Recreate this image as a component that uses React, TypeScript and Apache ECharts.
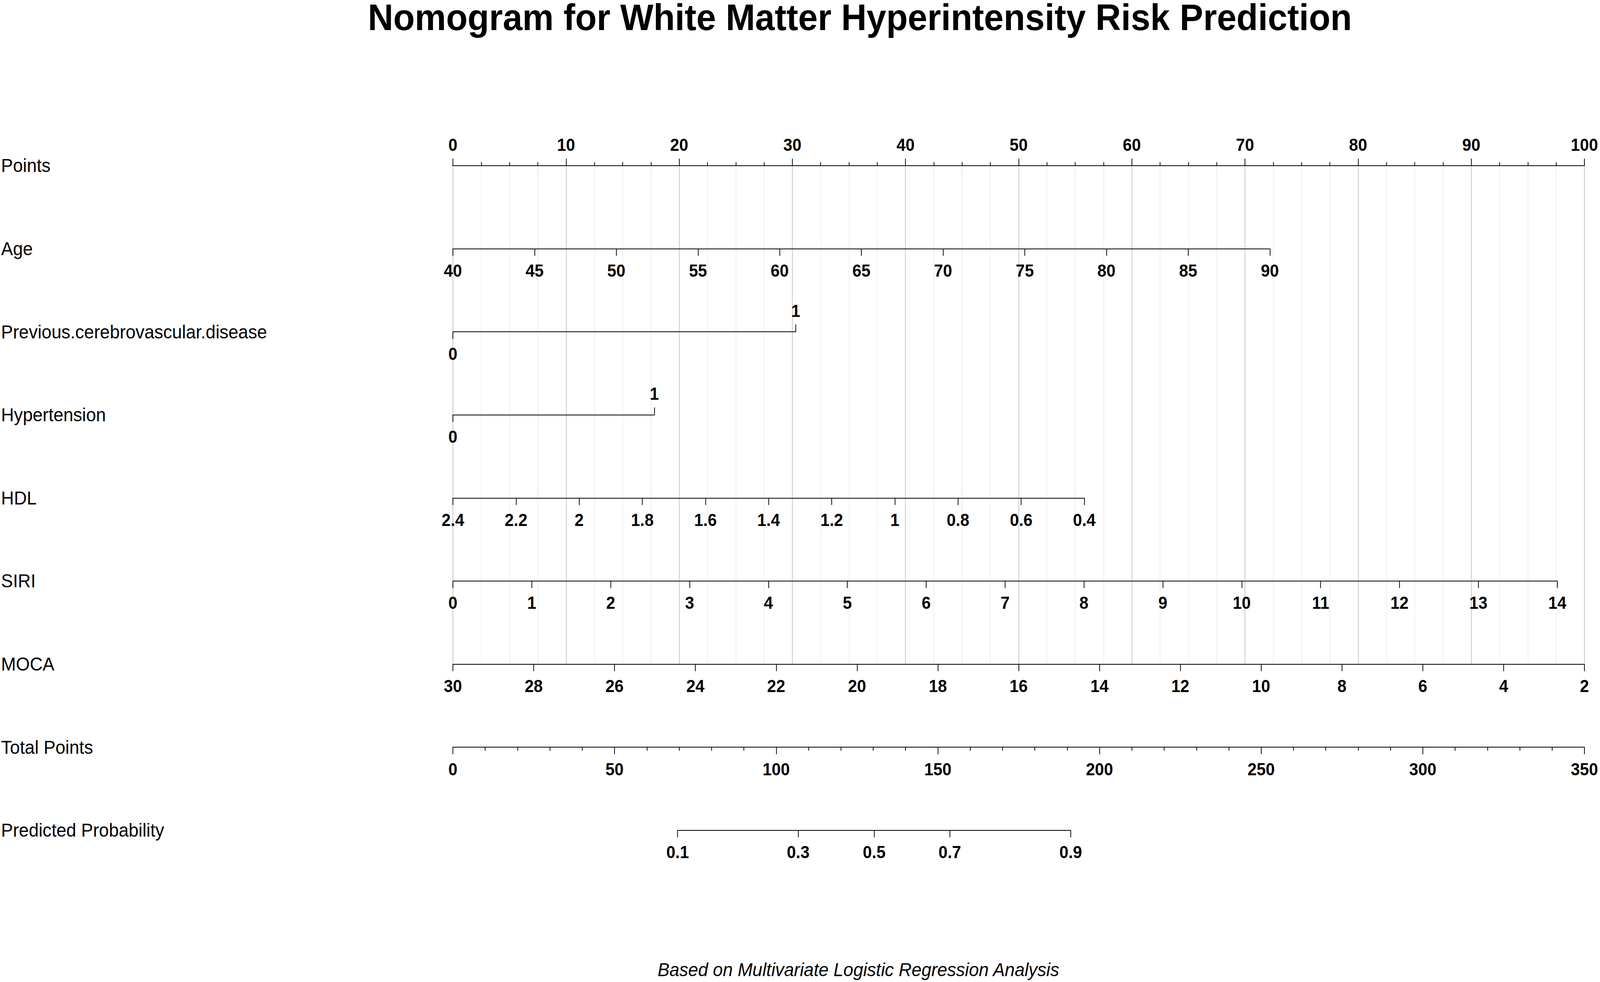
import React, { useEffect, useRef } from "react";
import * as echarts from "echarts";

// ---------------- data ----------------
const rowLabels = [
  "Points",
  "Age",
  "Previous.cerebrovascular.disease",
  "Hypertension",
  "HDL",
  "SIRI",
  "MOCA",
  "Total Points",
  "Predicted Probability",
];

const pointsMin = 0;
const pointsMax = 100;

// predictor ranges and the points reached at the far end of each axis
const ageValues = [40, 90];
const agePointsAtMax = 72.2;
const prevValues = [0, 1];
const prevPointsAtOne = 30.3;
const hypValues = [0, 1];
const hypPointsAtOne = 17.8;
const hdlValues = [2.4, 0.4];
const hdlPointsAtEnd = 55.8;
const siriValues = [0, 14];
const siriPointsAtEnd = 97.6;
const mocaValues = [30, 2];
const mocaPointsAtEnd = 100;

const totalMin = 0;
const totalMax = 350;

// predicted probability tick labels and their place on the total-points scale
const probLabels = ["0.1", "0.3", "0.5", "0.7", "0.9"];
const probTotalPoints = [69.5, 106.8, 130.3, 153.7, 191.1];

const titleText = "Nomogram for White Matter Hyperintensity Risk Prediction";
const footerText = "Based on Multivariate Logistic Regression Analysis";

// ---------------- layout ----------------
const W = 4317;
const H = 2513;
const plotLeft = 1222;
const plotWidth = 3053;
const rowTop = 424;
const rowStep = 212.6;
const rowY = rowLabels.map((_, i) => rowTop + i * rowStep);
const FONT = "Liberation Sans";

const tickLabelStyle = {
  show: true,
  color: "#000",
  fontFamily: FONT,
  fontWeight: "bold" as const,
  fontSize: 44,
  showMinLabel: true,
  showMaxLabel: true,
};

function axis(gridIndex: number, position: "top" | "bottom", extra: any) {
  const a: any = {
    type: "value",
    gridIndex,
    position,
    z: 5,
    axisLine: { show: true, onZero: false, lineStyle: { color: "#000", width: 2.2 } },
    axisTick: { show: true, inside: false, length: 18, lineStyle: { color: "#000", width: 2 } },
    axisLabel: { ...tickLabelStyle, margin: position === "top" ? 31 : 34 },
    splitLine: { show: false },
  };
  for (const k of Object.keys(extra)) {
    if (typeof extra[k] === "object" && !Array.isArray(extra[k]) && a[k]) {
      a[k] = { ...a[k], ...extra[k] };
    } else {
      a[k] = extra[k];
    }
  }
  return a;
}

function rowGrid(pStart: number, pEnd: number, scaleMax: number, y: number, height = 1) {
  return {
    left: plotLeft + (pStart / scaleMax) * plotWidth,
    width: ((pEnd - pStart) / scaleMax) * plotWidth,
    top: y - height,
    height,
    show: false,
  };
}

export default function App() {
  const ref = useRef<HTMLDivElement>(null);
  const sx = typeof window !== "undefined" ? Math.min(1, window.innerWidth / W) : 1;
  const sy = typeof window !== "undefined" ? Math.min(1, window.innerHeight / H) : 1;

  useEffect(() => {
    if (!ref.current) return;
    const chart = echarts.init(ref.current, undefined, { renderer: "svg" });

    const grids: any[] = [];
    const xAxes: any[] = [];
    const yAxes: any[] = [];

    // Points axis, with its grid lines running down to the MOCA row
    grids.push({
      left: plotLeft,
      width: plotWidth,
      top: rowY[0],
      height: rowY[6] - rowY[0],
      show: false,
    });
    xAxes.push(
      axis(0, "top", {
        min: pointsMin,
        max: pointsMax,
        interval: 10,
        z: 1,
        minorTick: { show: true, splitNumber: 4, length: 9, lineStyle: { color: "#000", width: 2 } },
        splitLine: { show: true, lineStyle: { color: "#c9c9c9", width: 2.2 } },
        minorSplitLine: { show: true, lineStyle: { color: "#ececec", width: 1.8 } },
      })
    );

    // Age
    grids.push(rowGrid(0, agePointsAtMax, pointsMax, rowY[1]));
    xAxes.push(axis(1, "bottom", { min: ageValues[0], max: ageValues[1], interval: 5 }));

    // Previous cerebrovascular disease: 0 below, 1 above
    grids.push(rowGrid(0, prevPointsAtOne, pointsMax, rowY[2]));
    xAxes.push(
      axis(2, "bottom", {
        min: prevValues[0],
        max: prevValues[1],
        interval: 1,
        axisTick: { customValues: [prevValues[0]] },
        axisLabel: { customValues: [prevValues[0]] },
      })
    );
    xAxes.push(
      axis(2, "top", {
        min: prevValues[0],
        max: prevValues[1],
        interval: 1,
        axisLine: { show: false },
        axisTick: { customValues: [prevValues[1]] },
        axisLabel: { customValues: [prevValues[1]] },
      })
    );

    // Hypertension
    grids.push(rowGrid(0, hypPointsAtOne, pointsMax, rowY[3]));
    xAxes.push(
      axis(3, "bottom", {
        min: hypValues[0],
        max: hypValues[1],
        interval: 1,
        axisTick: { customValues: [hypValues[0]] },
        axisLabel: { customValues: [hypValues[0]] },
      })
    );
    xAxes.push(
      axis(3, "top", {
        min: hypValues[0],
        max: hypValues[1],
        interval: 1,
        axisLine: { show: false },
        axisTick: { customValues: [hypValues[1]] },
        axisLabel: { customValues: [hypValues[1]] },
      })
    );

    // HDL (reversed)
    grids.push(rowGrid(0, hdlPointsAtEnd, pointsMax, rowY[4]));
    xAxes.push(
      axis(4, "bottom", {
        min: Math.min(...hdlValues),
        max: Math.max(...hdlValues),
        interval: 0.2,
        inverse: true,
      })
    );

    // SIRI
    grids.push(rowGrid(0, siriPointsAtEnd, pointsMax, rowY[5]));
    xAxes.push(axis(5, "bottom", { min: siriValues[0], max: siriValues[1], interval: 1 }));

    // MOCA (reversed)
    grids.push(rowGrid(0, mocaPointsAtEnd, pointsMax, rowY[6]));
    xAxes.push(
      axis(6, "bottom", {
        min: Math.min(...mocaValues),
        max: Math.max(...mocaValues),
        interval: 2,
        inverse: true,
      })
    );

    // Total points
    grids.push(rowGrid(totalMin, totalMax, totalMax, rowY[7]));
    xAxes.push(
      axis(7, "bottom", {
        min: totalMin,
        max: totalMax,
        interval: 50,
        minorTick: { show: true, splitNumber: 5, length: 9, lineStyle: { color: "#000", width: 2 } },
      })
    );

    // Predicted probability
    const pMin = probTotalPoints[0];
    const pMax = probTotalPoints[probTotalPoints.length - 1];
    grids.push(rowGrid(pMin, pMax, totalMax, rowY[8]));
    xAxes.push(
      axis(8, "bottom", {
        min: pMin,
        max: pMax,
        axisTick: { customValues: probTotalPoints },
        axisLabel: {
          customValues: probTotalPoints,
          formatter: (v: number) => {
            let best = 0;
            probTotalPoints.forEach((p, i) => {
              if (Math.abs(p - v) < Math.abs(probTotalPoints[best] - v)) best = i;
            });
            return probLabels[best];
          },
        },
      })
    );

    grids.forEach((_, i) => {
      yAxes.push({ type: "value", gridIndex: i, min: 0, max: 1, show: false });
    });

    const graphics: any[] = [
      {
        type: "text",
        x: 2320,
        y: 44,
        style: {
          text: titleText,
          fill: "#000",
          font: `bold 95px "${FONT}"`,
          align: "center",
          verticalAlign: "middle",
        },
      },
      {
        type: "text",
        x: 2316,
        y: 2482,
        style: {
          text: footerText,
          fill: "#000",
          font: `italic 48px "${FONT}"`,
          align: "center",
          verticalAlign: "middle",
        },
      },
      ...rowLabels.map((t, i) => ({
        type: "text",
        x: 3,
        y: rowY[i],
        style: {
          text: t,
          fill: "#000",
          font: `48px "${FONT}"`,
          align: "left",
          verticalAlign: "middle",
        },
      })),
    ];

    chart.setOption({
      animation: false,
      backgroundColor: "#ffffff",
      grid: grids,
      xAxis: xAxes,
      yAxis: yAxes,
      series: [],
      graphic: graphics,
    });

    return () => chart.dispose();
  }, []);

  return (
    <div
      ref={ref}
      style={{
        position: "absolute",
        left: 0,
        top: 0,
        width: W,
        height: H,
        background: "#fff",
        transformOrigin: "0 0",
        transform: `scale(${sx}, ${sy})`,
      }}
    />
  );
}
